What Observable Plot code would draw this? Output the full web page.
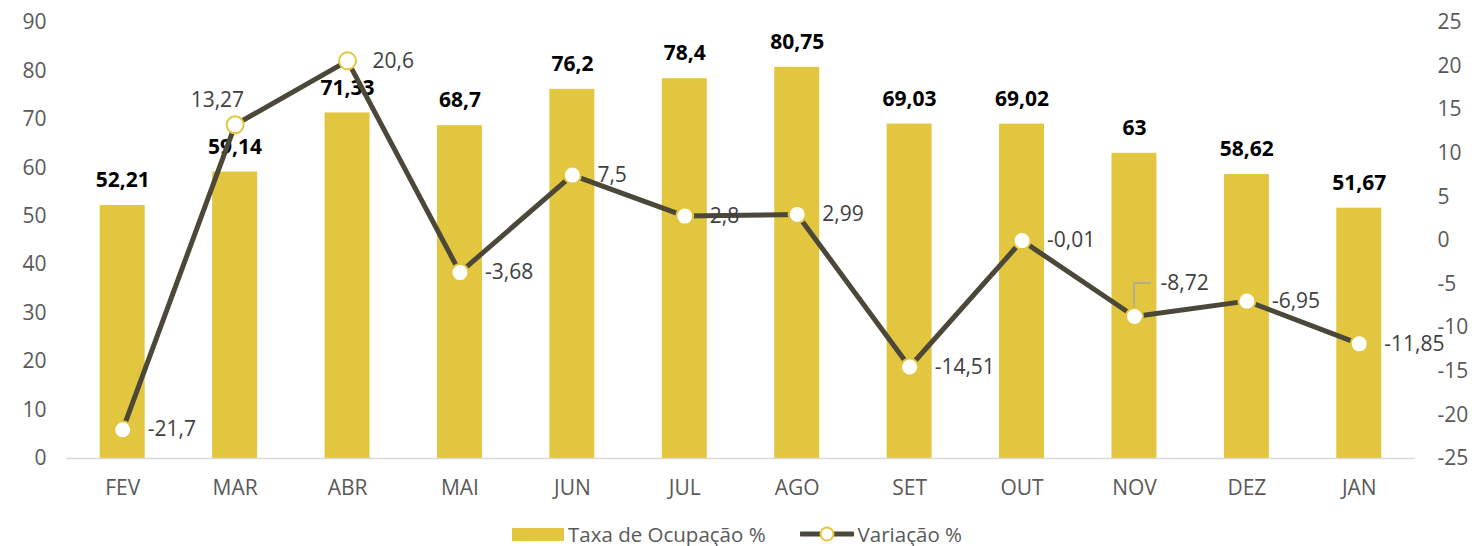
<!DOCTYPE html>
<html>
<head>
<meta charset="utf-8">
<script src="https://cdn.jsdelivr.net/npm/d3@7"></script>
<script src="https://cdn.jsdelivr.net/npm/@observablehq/plot@0.6"></script>
<style>
  html, body { margin: 0; background: #fff; font-family: "Open Sans", sans-serif; overflow: hidden; }
  #chart svg { display: block; }
  #legend { display: flex; justify-content: center; align-items: center; height: 26px; margin-top: 9px; font-size: 20.5px; line-height: 26px; color: #595959; }
  .item { display: flex; align-items: center; }
  .sw-bar { width: 52px; height: 13px; background: #E3C63F; margin-right: 4px; }
</style>
</head>
<body>
<div id="chart"></div>
<div id="legend">
  <div class="item"><div class="sw-bar"></div><span>Taxa de Ocupação %</span></div>
  <div class="item" style="margin-left:34px">
    <svg width="54" height="16" style="margin-right:4px"><line x1="1" x2="53" y1="8" y2="8" stroke="#4B4839" stroke-width="5" stroke-linecap="round"/><circle cx="27" cy="8" r="6.5" fill="#fff" stroke="#E3C63F" stroke-width="2"/></svg>
    <span>Variação %</span>
  </div>
</div>
<script>
const months = ["FEV", "MAR", "ABR", "MAI", "JUN", "JUL", "AGO", "SET", "OUT", "NOV", "DEZ", "JAN"];
const taxa = [52.21, 59.14, 71.33, 68.7, 76.2, 78.4, 80.75, 69.03, 69.02, 63, 58.62, 51.67];
const variacao = [-21.7, 13.27, 20.6, -3.68, 7.5, 2.8, 2.99, -14.51, -0.01, -8.72, -6.95, -11.85];
const leftTicks = [0, 10, 20, 30, 40, 50, 60, 70, 80, 90];
const rightTicks = [-25, -20, -15, -10, -5, 0, 5, 10, 15, 20, 25];

const leftMax = 90, rMin = -25, rMax = 25;
const toLeft = v => (v - rMin) * leftMax / (rMax - rMin);
const fromLeft = y => y * (rMax - rMin) / leftMax + rMin;
const fmt = v => String(v).replace(".", ",");

const rows = months.map((m, i) => ({month: m, taxa: taxa[i], variacao: variacao[i], vy: toLeft(variacao[i])}));
const special = {MAR: "topleft", NOV: "leader"};
const rightLabels = rows.filter(d => !special[d.month]);
const marLabel = rows.filter(d => special[d.month] === "topleft");
const novLabel = rows.filter(d => special[d.month] === "leader");

const W = 1474, H = 512;
const plot = Plot.plot({
  width: W, height: H,
  marginLeft: 66, marginRight: 59, marginTop: 22, marginBottom: 54,
  style: {fontFamily: "Open Sans, sans-serif", fontSize: "21px", color: "#595959", background: "#fff"},
  x: {domain: months, paddingInner: 0.6, paddingOuter: 0.3, round: false, label: null},
  y: {domain: [0, leftMax], label: null},
  marks: [
    Plot.barY(rows, {x: "month", y: "taxa", fill: "#E3C63F"}),
    Plot.ruleY([0], {stroke: "#D9D9D9", strokeWidth: 1.5}),
    Plot.axisY(leftTicks, {anchor: "left", tickSize: 0, tickPadding: 20, label: null, fill: "#595959", fontSize: 21}),
    Plot.axisY(rightTicks.map(toLeft), {anchor: "right", tickSize: 0, tickPadding: 22, label: null, fill: "#595959", fontSize: 21,
      tickFormat: y => String(Math.round(fromLeft(y)))}),
    Plot.axisX({anchor: "bottom", tickSize: 0, tickPadding: 22, label: null, fill: "#595959", fontSize: 21}),
    Plot.text(rows, {x: "month", y: "taxa", text: d => fmt(d.taxa), dy: -25, fontWeight: "bold", fontSize: 21, fill: "#000"}),
    Plot.line(rows, {x: "month", y: "vy", stroke: "#4B4839", strokeWidth: 5, strokeLinejoin: "round", curve: "linear"}),
    Plot.dot(rows, {x: "month", y: "vy", r: 8.5, fill: "#fff", stroke: "#E3C63F", strokeWidth: 2}),
    Plot.text(rightLabels, {x: "month", y: "vy", text: d => fmt(d.variacao), dx: 25, textAnchor: "start", fill: "#404040", fontSize: 21}),
    Plot.text(marLabel, {x: "month", y: "vy", text: d => fmt(d.variacao), dx: 9, dy: -25, textAnchor: "end", fill: "#404040", fontSize: 21}),
    Plot.text(novLabel, {x: "month", y: "vy", text: d => fmt(d.variacao), dx: 26, dy: -33, textAnchor: "start", fill: "#404040", fontSize: 21})
  ]
});
document.getElementById("chart").appendChild(plot);

// leader line for NOV label, computed from the plot's own scales
const xs = plot.scale("x"), ys = plot.scale("y");
novLabel.forEach(d => {
  const cx = xs.apply(d.month) + xs.bandwidth / 2;
  const cy = ys.apply(d.vy);
  d3.select(plot).append("path")
    .attr("d", `M${cx},${cy - 9}V${cy - 33}H${cx + 17}`)
    .attr("fill", "none").attr("stroke", "#A6A6A6").attr("stroke-width", 1.5);
});
</script>
</body>
</html>
